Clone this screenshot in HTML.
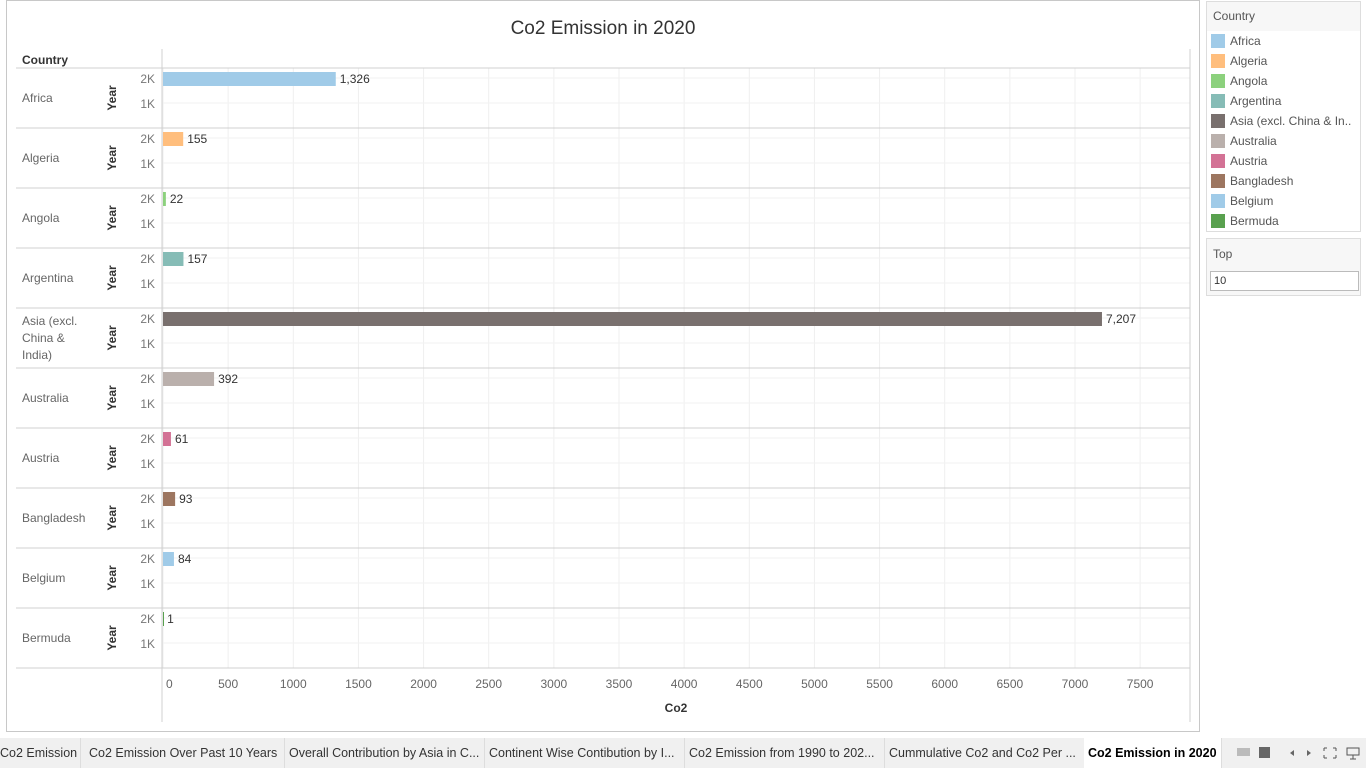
<!DOCTYPE html>
<html><head><meta charset="utf-8">
<style>
body{margin:0;width:1366px;height:768px;background:#fff;font-family:"Liberation Sans",sans-serif;position:relative;overflow:hidden}
#frame{position:absolute;left:6px;top:0;width:1192px;height:730px;border:1px solid #c8c8c8;box-sizing:content-box}
#tabs{position:absolute;left:0;top:738px;width:1366px;height:30px;background:#f0f0f0;font-size:12.5px;color:#333}
.tab{position:absolute;top:0;height:30px;line-height:30px;border-right:1px solid #ddd;padding-left:4px;white-space:nowrap;overflow:hidden}
.legend{position:absolute;left:1206px;width:153px;border:1px solid #ddd;background:#fff;font-size:12px;color:#555}
.li{height:20px;line-height:20px;position:relative;padding-left:23px}
.sw{position:absolute;left:4px;top:3px;width:14px;height:14px}
</style></head><body>
<div id="frame">
<svg id="chart" width="1192" height="730"></svg>
</div>
<div class="legend" style="top:1px;height:229px">
 <div style="height:29px;line-height:29px;padding-left:6px;background:#f7f7f7">Country</div>
 <div id="legitems"></div>
</div>
<div class="legend" style="top:238px;height:56px;background:#f7f7f7">
 <div style="padding:8px 0 0 6px">Top</div>
 <div style="position:absolute;left:3px;top:32px;width:144px;height:18px;border:1px solid #bbb;background:#fff;line-height:18px;padding-left:3px;font-size:11px;color:#333">10</div>
</div>
<div id="tabs">
 <div class="tab" style="left:-4px;width:80px">Co2 Emission</div>
 <div class="tab" style="left:85px;width:195px">Co2 Emission Over Past 10 Years</div>
 <div class="tab" style="left:285px;width:195px">Overall Contribution by Asia in C...</div>
 <div class="tab" style="left:485px;width:195px">Continent Wise Contibution by I...</div>
 <div class="tab" style="left:685px;width:195px">Co2 Emission from 1990 to 202...</div>
 <div class="tab" style="left:885px;width:195px">Cummulative Co2 and Co2 Per ...</div>
 <div class="tab" style="left:1084px;width:133px;background:#fff;font-weight:bold;color:#000">Co2 Emission in 2020</div>
 <svg style="position:absolute;left:1230px;top:0" width="136" height="30">
  <rect x="7" y="10" width="13" height="8" fill="#bbb"/><rect x="29" y="9" width="11" height="11" fill="#666"/>
  <path d="M60 15 l4 -3 v6z M77 12 l4 3 -4 3z" fill="#666"/>
  <path d="M94 10 h3 M94 10 v3 M106 10 h-3 M106 10 v3 M94 20 h3 M94 20 v-3 M106 20 h-3 M106 20 v-3" stroke="#555" fill="none"/>
  <rect x="117" y="10" width="12" height="7" fill="none" stroke="#555"/><path d="M123 17 v4 M120 21 h6" stroke="#555"/>
 </svg>
</div>
<script>
const countries=["Africa","Algeria","Angola","Argentina","Asia (excl. China & India)","Australia","Austria","Bangladesh","Belgium","Bermuda"];
const values=[1326,155,22,157,7207,392,61,93,84,1];
const labels=["1,326","155","22","157","7,207","392","61","93","84","1"];
const colors=["#a0cbe8","#ffbe7d","#8cd17d","#86bcb6","#79706e","#bab0ac","#d37295","#9d7660","#a0cbe8","#59a14f"];
const ticks=[0,500,1000,1500,2000,2500,3000,3500,4000,4500,5000,5500,6000,6500,7000,7500];
const legendNames=["Africa","Algeria","Angola","Argentina","Asia (excl. China & In..","Australia","Austria","Bangladesh","Belgium","Bermuda"];
const NS="http://www.w3.org/2000/svg",svg=document.getElementById('chart');
const OX=-7;
const x0=163+OX, sc=912/7000, rowTop=67, rowH=60, right=1190+OX;
const X=v=>x0+v*sc;
function el(t,a,txt){const e=document.createElementNS(NS,t);for(const k in a)e.setAttribute(k,a[k]);if(txt!=null)e.textContent=txt;svg.appendChild(e);return e;}
let t=el('text',{x:603+OX,y:33,'font-size':19,fill:'#333','text-anchor':'middle'},'Co2 Emission in 2020');

t=el('text',{x:22+OX,y:63,'font-size':12,'font-weight':'bold',fill:'#333'},'Country');

ticks.forEach(v=>{const g=el('line',{x1:X(v),x2:X(v),y1:rowTop,y2:rowTop+rowH*countries.length,stroke:'#efefef'});
 
 const l=el('text',{x:v===0?X(v)+3:X(v),y:687,'font-size':12,fill:'#666','text-anchor':v===0?'start':'middle'},String(v));
 });
countries.forEach((c,i)=>{const y=rowTop+i*rowH;
 el('line',{x1:x0,x2:right,y1:y+10,y2:y+10,stroke:'#f2f2f2'});
 el('line',{x1:x0,x2:right,y1:y+35,y2:y+35,stroke:'#f2f2f2'});
 const sep=el('line',{x1:16+OX,x2:right,y1:y,y2:y,stroke:'#d0d0d0'});
 
 const lines=c==="Asia (excl. China & India)"?["Asia (excl.","China &","India)"]:[c];
 const ly=y+30-(lines.length-1)*8.5+4;
 lines.forEach((s,k)=>{const tt=el('text',{x:22+OX,y:ly+k*17,'font-size':12,fill:'#666'},s);
  });
 const yl=el('text',{transform:`translate(${116+OX},${y+30}) rotate(-90)`,'font-size':12,'font-weight':'bold',fill:'#333','text-anchor':'middle'},'Year');
 
 el('text',{x:155+OX,y:y+15,'font-size':12,fill:'#777','text-anchor':'end'},'2K');
 el('text',{x:155+OX,y:y+40,'font-size':12,fill:'#777','text-anchor':'end'},'1K');
 const b=el('rect',{x:x0,y:y+4,width:Math.max(values[i]*sc,1),height:14,fill:colors[i]});
 
 const v=el('text',{x:X(values[i])+4,y:y+15,'font-size':12,fill:'#333'},labels[i]);
 
});
const last=rowTop+rowH*countries.length;
el('line',{x1:16+OX,x2:right,y1:last,y2:last,stroke:'#d0d0d0'});
el('line',{x1:x0-1,x2:x0-1,y1:48,y2:721,stroke:'#d0d0d0'});
el('line',{x1:right,x2:right,y1:48,y2:721,stroke:'#d0d0d0'});
t=el('text',{x:676+OX,y:711,'font-size':12,'font-weight':'bold',fill:'#333','text-anchor':'middle'},'Co2');

const li=document.getElementById('legitems');
legendNames.forEach((n,i)=>{const d=document.createElement('div');d.className='li';
 
 
 d.innerHTML=`<span class="sw" style="background:${colors[i]}"></span>`;d.appendChild(document.createTextNode(n));li.appendChild(d);});
</script>
</body></html>
